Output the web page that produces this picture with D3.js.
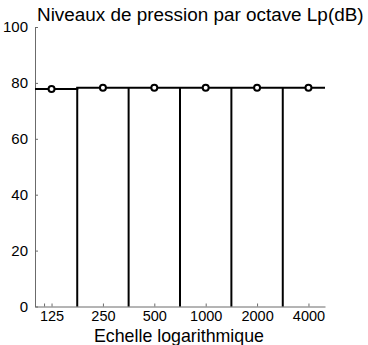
<!DOCTYPE html>
<html><head><meta charset="utf-8">
<script src="https://cdn.jsdelivr.net/npm/d3@7"></script>
<style>
html,body{margin:0;padding:0;background:#fff;}
svg{display:block;font-family:"Liberation Sans",Arial,sans-serif;}
</style></head>
<body>
<svg id="c" width="368" height="345"></svg>
<script>
const bandCenters = [125, 250, 500, 1000, 2000, 4000];
const tickLabels = ["125", "250", "500", "1000", "2000", "4000"];
const extraTicks = [113];
const levels = [77.8, 78.3, 78.3, 78.3, 78.3, 78.3];
const xDomain = [100, 5000];
const yDomain = [0, 100];
const yTicks = [0, 20, 40, 60, 80, 100];
const titleText = "Niveaux de pression par octave Lp(dB)";
const xLabelText = "Echelle logarithmique";

const svg = d3.select("#c");
const x = d3.scaleLog().domain(xDomain).range([35, 325]);
const y = d3.scaleLinear().domain(yDomain).range([306.5, 27]);

// band edges (octave boundaries)
const inner = bandCenters.slice(1).map((c, i) => Math.sqrt(c * bandCenters[i]));
const edges = [xDomain[0], ...inner, xDomain[1]];
const stepPts = levels.map((v, i) => [edges[i], v]).concat([[xDomain[1], levels[levels.length - 1]]]);

const axisCol = "#6b6b6b";

// y axis
const yAxis = d3.axisLeft(y).tickValues(yTicks).tickSizeInner(-3).tickSizeOuter(0).tickPadding(7);
const gy = svg.append("g").attr("transform", "translate(35,0)").call(yAxis);
gy.select(".domain").attr("stroke", axisCol);
gy.selectAll(".tick line").attr("stroke", axisCol);
gy.selectAll(".tick text").attr("font-size", 15).attr("fill", "#000").attr("font-family", "Liberation Sans, Arial, sans-serif");

// x axis
const xAxis = d3.axisBottom(x).tickValues(bandCenters.concat(extraTicks))
  .tickFormat(d => { const i = bandCenters.indexOf(d); return i >= 0 ? tickLabels[i] : ""; })
  .tickSizeInner(-3).tickSizeOuter(0).tickPadding(4);
const gx = svg.append("g").attr("transform", "translate(0,306.5)").call(xAxis);
gx.select(".domain").attr("stroke", axisCol);
gx.selectAll(".tick line").attr("stroke", axisCol);
gx.selectAll(".tick text").attr("font-size", 14.5).attr("fill", "#000").attr("font-family", "Liberation Sans, Arial, sans-serif");

// vertical band separators
svg.append("g").selectAll("line").data(inner).join("line")
  .attr("x1", d => x(d)).attr("x2", d => x(d))
  .attr("y1", (d, i) => y(Math.max(levels[i], levels[i + 1])))
  .attr("y2", y(0))
  .attr("stroke", "#000").attr("stroke-width", 2);

// step line
const line = d3.line().x(d => x(d[0])).y(d => y(d[1])).curve(d3.curveStepAfter);
svg.append("path").datum(stepPts).attr("d", line)
  .attr("fill", "none").attr("stroke", "#000").attr("stroke-width", 2);

// markers
svg.append("g").selectAll("circle").data(bandCenters).join("circle")
  .attr("cx", d => x(d)).attr("cy", (d, i) => y(levels[i])).attr("r", 3)
  .attr("fill", "#fff").attr("stroke", "#000").attr("stroke-width", 2);

// title and x label
svg.append("text").attr("x", 37).attr("y", 21).attr("font-size", 18.9).attr("fill", "#000").text(titleText);
svg.append("text").attr("x", 179).attr("y", 342).attr("text-anchor", "middle").attr("font-size", 17.8).attr("fill", "#000").text(xLabelText);
</script>
</body></html>
